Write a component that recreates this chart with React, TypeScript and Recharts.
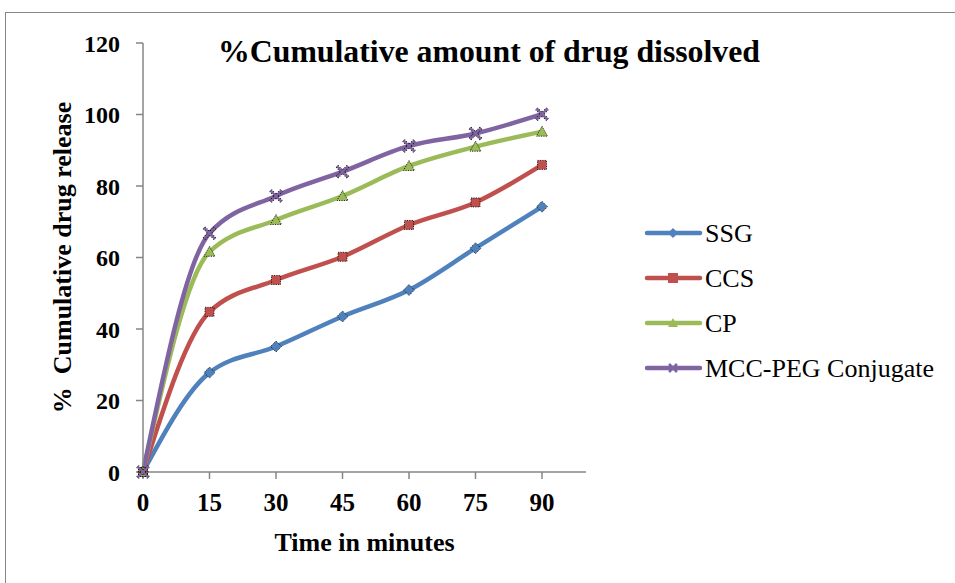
import { Line, LineChart, XAxis, YAxis } from "recharts";

const times = ["0", "15", "30", "45", "60", "75", "90"];
const ssg = [0, 27.8, 35.1, 43.5, 50.9, 62.6, 74.2];
const ccs = [0, 44.8, 53.7, 60.2, 69.1, 75.4, 85.9];
const cp = [0, 61.6, 70.5, 77.2, 85.6, 91.0, 95.2];
const mccPeg = [0, 66.8, 77.2, 84.0, 91.2, 94.7, 100.1];
const yTicks = [0, 20, 40, 60, 80, 100, 120];

const series = [
  { key: "ssg", name: "SSG", color: "#4F81BD", marker: "diamond" },
  { key: "ccs", name: "CCS", color: "#C0504D", marker: "square" },
  { key: "cp", name: "CP", color: "#9BBB59", marker: "triangle" },
  { key: "mcc", name: "MCC-PEG Conjugate", color: "#8064A2", marker: "cross" },
];

const data = times.map((time, i) => ({
  time,
  ssg: ssg[i],
  ccs: ccs[i],
  cp: cp[i],
  mcc: mccPeg[i],
}));

const serif = "Liberation Serif";
const axisGray = "#868686";

function markerShape(marker: string, cx: number, cy: number, color: string, s: number) {
  const outline = { stroke: "#000", strokeWidth: 0.8, strokeDasharray: "1.2 1.2" };
  if (marker === "diamond") {
    return (
      <path
        d={`M${cx},${cy - s} L${cx + s},${cy} L${cx},${cy + s} L${cx - s},${cy} Z`}
        fill={color}
        {...outline}
      />
    );
  }
  if (marker === "square") {
    return <rect x={cx - s + 1} y={cy - s + 1} width={2 * s - 2} height={2 * s - 2} fill={color} {...outline} />;
  }
  if (marker === "triangle") {
    return (
      <path
        d={`M${cx},${cy - s} L${cx + s},${cy + s - 1} L${cx - s},${cy + s - 1} Z`}
        fill={color}
        {...outline}
      />
    );
  }
  return (
    <g>
      <path
        d={`M${cx - s},${cy - s} L${cx + s},${cy + s} M${cx + s},${cy - s} L${cx - s},${cy + s}`}
        stroke="#000"
        strokeWidth={3.5}
        strokeDasharray="1.2 1.2"
      />
      <path
        d={`M${cx - s},${cy - s} L${cx + s},${cy + s} M${cx + s},${cy - s} L${cx - s},${cy + s}`}
        stroke={color}
        strokeWidth={2.2}
      />
    </g>
  );
}

function makeDot(marker: string, color: string) {
  return (props: any) => {
    const { cx, cy, index } = props;
    if (cx == null || cy == null) return <g key={index} />;
    return <g key={index}>{markerShape(marker, cx, cy, color, 5.5)}</g>;
  };
}

function YLabel(props: any) {
  const vb = props.viewBox || {};
  const x = 62;
  const y = vb.y + vb.height / 2;
  return (
    <text
      x={x}
      y={y}
      transform={`rotate(-90, ${x}, ${y})`}
      textAnchor="middle"
      dominantBaseline="central"
      fontFamily={serif}
      fontWeight="bold"
      fontSize={26}
      fill="#000"
      style={{ whiteSpace: "pre" }}
    >
      {"%  Cumulative drug release"}
    </text>
  );
}

// title and legend drawn in an svg overlay so they use the same serif as the ticks
function Overlay() {
  return (
    <svg
      width={955}
      height={583}
      style={{ position: "absolute", left: 0, top: 0, pointerEvents: "none" }}
    >
      <text
        x={218}
        y={62}
        textLength={542}
        lengthAdjust="spacingAndGlyphs"
        fontFamily={serif}
        fontWeight="bold"
        fontSize={31}
        fill="#000"
      >
        %Cumulative amount of drug dissolved
      </text>
      {series.map((s, i) => {
        const y = 233 + i * 45;
        return (
          <g key={s.key}>
            <line x1={647} y1={y} x2={700} y2={y} stroke={s.color} strokeWidth={4.5} strokeLinecap="round" />
            {s.marker === "cross" ? (
              <path d={`M${669},${y - 4} L${677},${y + 4} M${677},${y - 4} L${669},${y + 4}`} stroke={s.color} strokeWidth={2.5} />
            ) : s.marker === "diamond" ? (
              <path d={`M673,${y - 5} L678,${y} L673,${y + 5} L668,${y} Z`} fill={s.color} />
            ) : s.marker === "square" ? (
              <rect x={668} y={y - 5} width={10} height={10} fill={s.color} />
            ) : (
              <path d={`M673,${y - 5} L678,${y + 4} L668,${y + 4} Z`} fill={s.color} />
            )}
            <text
              x={705}
              y={y + 9}
              fontFamily={serif}
              fontWeight="normal"
              fontSize={26}
              fill="#000"
            >
              {s.name}
            </text>
          </g>
        );
      })}
    </svg>
  );
}

export default function App() {
  return (
    <div
      style={{
        position: "absolute",
        left: 0,
        top: 0,
        width: 955,
        height: 583,
        overflow: "hidden",
        background: "#fff",
      }}
    >
      <div
        style={{
          position: "absolute",
          left: 5,
          top: 12,
          width: 1200,
          height: 1200,
          border: `1px solid ${axisGray}`,
        }}
      />
      <LineChart
        width={955}
        height={583}
        data={data}
        margin={{ top: 43, right: 369, bottom: 28, left: 43 }}
        style={{ position: "absolute", left: 0, top: 0 }}
      >
        <XAxis
          dataKey="time"
          padding={{ left: 0, right: 44 }}
          height={83}
          stroke={axisGray}
          strokeWidth={1.5}
          tickSize={7}
          tickMargin={14}
          tick={{ fill: "#000", fontFamily: serif, fontWeight: "bold", fontSize: 25 }}
          label={{
            value: "Time in minutes",
            position: "insideBottom",
            offset: 4,
            fill: "#000",
            fontFamily: serif,
            fontWeight: "bold",
            fontSize: 26,
          }}
        />
        <YAxis
          domain={[0, 120]}
          ticks={yTicks}
          width={100}
          stroke={axisGray}
          strokeWidth={1.5}
          tickSize={7}
          tickMargin={16}
          tick={{ fill: "#000", fontFamily: serif, fontWeight: "bold", fontSize: 24 }}
          label={<YLabel />}
        />
        {series.map((s) => (
          <Line
            key={s.key}
            type="monotone"
            dataKey={s.key}
            name={s.name}
            stroke={s.color}
            strokeWidth={4.5}
            dot={makeDot(s.marker, s.color)}
            activeDot={false}
            isAnimationActive={false}
          />
        ))}
      </LineChart>
      <Overlay />
    </div>
  );
}
